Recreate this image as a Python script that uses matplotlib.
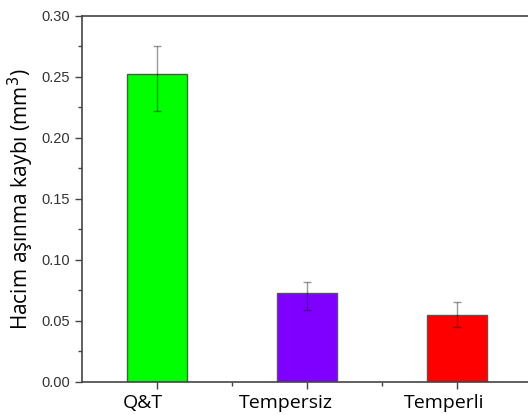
import matplotlib
matplotlib.use("Agg")
import matplotlib.pyplot as plt
from matplotlib.ticker import MultipleLocator, FixedLocator
from matplotlib.transforms import ScaledTranslation
import numpy as np

categories = ["Q&T", "Tempersiz", "Temperli"]
values = [0.252, 0.0728, 0.0547]
err_low = [0.030, 0.0138, 0.0102]
err_high = [0.023, 0.0091, 0.0109]
colors = ["#00ff00", "#7f00ff", "#ff0000"]
y_ticks = [0.00, 0.05, 0.10, 0.15, 0.20, 0.25, 0.30]

fig = plt.figure(figsize=(5.28, 4.15), dpi=100)
ax = fig.add_axes([0.1553, 0.0802, 0.8523, 0.8820])

x = np.arange(1, len(categories) + 1)
ax.bar(x, values, width=0.4, color=colors, edgecolor="#555555", linewidth=1.0, zorder=2)
ax.errorbar(x, values, yerr=[err_low, err_high], fmt="none", ecolor="black",
            alpha=0.4, elinewidth=1.0, capsize=3, capthick=1.0, zorder=3)

ax.set_xlim(0.5, 3.5)
ax.set_ylim(0, 0.30)
ax.set_yticks(y_ticks)
ax.set_yticklabels([f"{t:.2f}" for t in y_ticks], family="Liberation Sans",
                   fontsize=10.5, color="#333333")
ax.yaxis.set_minor_locator(MultipleLocator(0.025))
ax.set_xticks(x)
ax.set_xticklabels([])
ax.xaxis.set_minor_locator(FixedLocator([1.5, 2.5]))

# category labels, set slightly left of their ticks
label_shift_px = [-14.5, -21.5, -13]
base = ax.get_xaxis_transform()
for xi, name, dx in zip(x, categories, label_shift_px):
    tr = base + ScaledTranslation(dx / 100, -12 / 100, fig.dpi_scale_trans)
    ax.text(xi, 0, name, transform=tr, ha="center", va="top",
            family="Open Sans", fontsize=14, color="black", clip_on=False)

for side in ["left", "bottom", "top"]:
    ax.spines[side].set_color("#444444")
    ax.spines[side].set_linewidth(1.2)
ax.spines["right"].set_visible(False)

ax.tick_params(axis="both", which="major", direction="out", length=5, width=1.0,
               color="#444444")
ax.tick_params(axis="both", which="minor", direction="out", length=3, width=1.0,
               color="#444444")

ax.set_ylabel("Hacim aşınma kaybı (mm$^{3}$)", family="Open Sans", fontsize=15,
              labelpad=4)

fig.savefig("out.png", dpi=100)
